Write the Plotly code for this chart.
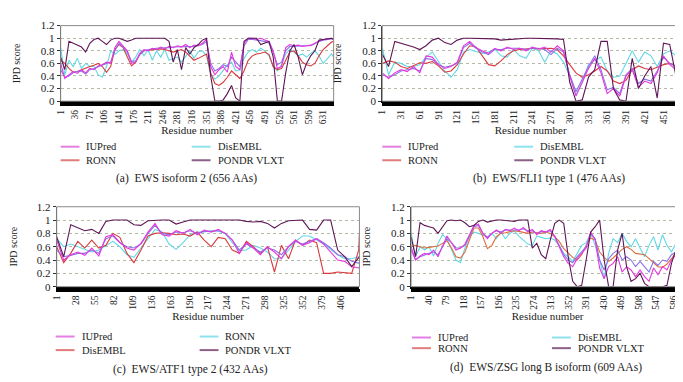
import plotly.graph_objects as go

FONT = "Liberation Serif"
W, H = 683, 382

# ---------------- data ----------------
# (a) EWS isoform 2
a_len = 656
a_res = list(range(1, a_len + 1, 10)) + [a_len]
a_pondr = [0.70, 0.50, 0.95, 0.92, 0.89, 0.86, 0.78, 0.92, 0.98, 1.00,
           0.95, 0.90, 0.97, 1.00, 1.00, 0.98, 0.95, 0.97, 1.00, 1.00,
           1.00, 1.00, 0.99, 1.00, 1.00, 1.00, 0.95, 0.62, 0.82, 0.50,
           0.85, 0.75, 0.85, 0.90, 0.97, 1.00, 0.40, 0.00, 0.00, 0.02,
           0.12, 0.25, 0.05, 0.00, 0.95, 1.00, 1.00, 1.00, 0.90, 0.93,
           0.95, 0.70, 0.00, 0.00, 0.45, 0.80, 0.90, 0.70, 0.42, 0.60,
           0.72, 0.80, 0.97, 0.98, 0.99, 1.00, 0.98]
a_iupred = [0.60, 0.36, 0.42, 0.47, 0.44, 0.50, 0.45, 0.52, 0.50, 0.56,
            0.58, 0.62, 0.60, 0.85, 0.95, 0.88, 0.80, 0.60, 0.62, 0.76,
            0.82, 0.80, 0.84, 0.82, 0.86, 0.83, 0.87, 0.85, 0.88, 0.86,
            0.90, 0.85, 0.89, 0.88, 0.92, 0.98, 0.55, 0.42, 0.50, 0.55,
            0.46, 0.78, 0.55, 0.50, 0.92, 1.00, 1.00, 0.98, 1.00, 0.97,
            0.95, 0.80, 0.52, 0.55, 0.85, 0.90, 0.88, 0.89, 0.87, 0.88,
            0.89, 0.92, 0.96, 0.98, 0.99, 1.00, 0.99]
a_iupred_long = [0.50, 0.38, 0.40, 0.45, 0.47, 0.48, 0.43, 0.50, 0.52, 0.55,
                 0.57, 0.60, 0.62, 0.80, 0.92, 0.86, 0.78, 0.63, 0.64, 0.74,
                 0.80, 0.82, 0.83, 0.84, 0.84, 0.85, 0.85, 0.86, 0.86, 0.87,
                 0.87, 0.87, 0.87, 0.88, 0.90, 0.95, 0.60, 0.48, 0.52, 0.58,
                 0.55, 0.70, 0.62, 0.55, 0.88, 0.98, 0.98, 0.97, 0.97, 0.95,
                 0.92, 0.78, 0.58, 0.62, 0.80, 0.87, 0.87, 0.88, 0.88, 0.88,
                 0.88, 0.91, 0.95, 0.97, 0.98, 0.99, 0.98]
a_ronn = [0.65, 0.60, 0.52, 0.46, 0.47, 0.50, 0.52, 0.55, 0.57, 0.60,
          0.55, 0.46, 0.55, 0.82, 0.90, 0.85, 0.70, 0.56, 0.62, 0.75,
          0.80, 0.81, 0.82, 0.82, 0.83, 0.82, 0.80, 0.78, 0.80, 0.82,
          0.78, 0.72, 0.65, 0.68, 0.72, 0.75, 0.45, 0.28, 0.25, 0.30,
          0.38, 0.48, 0.42, 0.36, 0.48, 0.65, 0.72, 0.75, 0.76, 0.78,
          0.74, 0.55, 0.50, 0.52, 0.65, 0.78, 0.80, 0.72, 0.62, 0.58,
          0.56, 0.60, 0.72, 0.82, 0.88, 0.94, 0.95]
a_disembl = [0.85, 0.42, 0.65, 0.55, 0.68, 0.52, 0.60, 0.55, 0.55, 0.42,
             0.38, 0.55, 0.80, 0.74, 0.80, 0.82, 0.75, 0.62, 0.70, 0.82,
             0.72, 0.82, 0.65, 0.80, 0.70, 0.82, 0.65, 0.68, 0.70, 0.62,
             0.72, 0.80, 0.68, 0.78, 0.80, 0.72, 0.42, 0.35, 0.40, 0.50,
             0.58, 0.62, 0.48, 0.50, 0.68, 0.78, 0.82, 0.78, 0.84, 0.80,
             0.72, 0.55, 0.48, 0.58, 0.75, 0.82, 0.78, 0.72, 0.75, 0.70,
             0.76, 0.80, 0.72, 0.60, 0.68, 0.75, 0.70]
a_ticks = [1, 36, 71, 106, 141, 176, 211, 246, 281, 316, 351, 386, 421,
           456, 491, 526, 561, 596, 631]

# (b) EWS/FLI1 type 1
b_len = 476
b_res = list(range(1, b_len + 1, 10)) + [b_len]
b_pondr = [0.75, 0.55, 0.95, 0.92, 0.90, 0.86, 0.82, 0.88, 0.97, 1.00,
           0.93, 0.90, 0.97, 1.00, 1.00, 1.00, 1.00, 1.00, 0.99, 0.97,
           0.98, 0.98, 0.99, 1.00, 1.00, 1.00, 1.00, 1.00, 0.99, 0.98,
           0.30, 0.00, 0.02, 0.38, 0.50, 0.95, 0.95, 0.20, 0.02, 0.00,
           0.68, 0.20, 0.40, 0.55, 0.05, 0.92, 0.90, 0.40, 0.20]
b_iupred = [0.45, 0.36, 0.45, 0.50, 0.47, 0.55, 0.45, 0.72, 0.70, 0.58,
            0.52, 0.55, 0.62, 0.88, 0.95, 0.85, 0.80, 0.76, 0.84, 0.80,
            0.86, 0.82, 0.84, 0.80, 0.86, 0.83, 0.86, 0.78, 0.88, 0.80,
            0.40, 0.08, 0.30, 0.52, 0.68, 0.45, 0.12, 0.20, 0.08, 0.40,
            0.50, 0.22, 0.32, 0.28, 0.45, 0.72, 0.58, 0.50, 0.15]
b_iupred_long = [0.42, 0.38, 0.42, 0.48, 0.50, 0.52, 0.48, 0.68, 0.66, 0.58,
                 0.54, 0.56, 0.60, 0.85, 0.92, 0.84, 0.78, 0.74, 0.82, 0.82,
                 0.84, 0.84, 0.84, 0.82, 0.84, 0.84, 0.82, 0.74, 0.84, 0.78,
                 0.42, 0.15, 0.35, 0.55, 0.72, 0.50, 0.18, 0.22, 0.12, 0.42,
                 0.52, 0.28, 0.35, 0.32, 0.48, 0.70, 0.60, 0.55, 0.35]
b_ronn = [0.60, 0.64, 0.62, 0.55, 0.52, 0.57, 0.61, 0.60, 0.63, 0.56,
          0.46, 0.48, 0.58, 0.75, 0.88, 0.86, 0.72, 0.58, 0.56, 0.64,
          0.74, 0.80, 0.82, 0.83, 0.84, 0.83, 0.83, 0.84, 0.82, 0.72,
          0.58, 0.45, 0.38, 0.42, 0.48, 0.55, 0.48, 0.32, 0.28, 0.33,
          0.50, 0.56, 0.52, 0.50, 0.54, 0.58, 0.60, 0.56, 0.50]
b_disembl = [0.85, 0.42, 0.62, 0.60, 0.55, 0.55, 0.58, 0.70, 0.78, 0.62,
             0.48, 0.38, 0.50, 0.78, 0.82, 0.79, 0.76, 0.78, 0.83, 0.72,
             0.70, 0.82, 0.72, 0.68, 0.84, 0.80, 0.62, 0.80, 0.75, 0.62,
             0.40, 0.10, 0.30, 0.58, 0.65, 0.70, 0.48, 0.38, 0.40, 0.60,
             0.80, 0.62, 0.78, 0.72, 0.55, 0.75, 0.80, 0.72, 0.85]
b_ticks = [1, 31, 61, 91, 121, 151, 181, 211, 241, 271, 301, 331, 361,
           391, 421, 451]

# (c) EWS/ATF1 type 2
c_len = 432
c_res = list(range(1, c_len + 1, 10)) + [c_len]
c_pondr = [0.75, 0.45, 0.93, 0.88, 0.84, 0.86, 0.80, 0.98, 1.00, 1.00,
           1.00, 0.93, 0.92, 0.99, 1.00, 1.00, 1.00, 0.94, 0.97, 1.00,
           1.00, 1.00, 1.00, 1.00, 1.00, 1.00, 1.00, 0.98, 0.97, 0.98,
           0.95, 0.88, 0.95, 0.99, 1.00, 1.00, 0.86, 0.85, 1.00, 1.00,
           0.55, 0.45, 0.30, 0.45, 0.45]
c_iupred = [0.70, 0.40, 0.48, 0.52, 0.47, 0.58, 0.46, 0.75, 0.78, 0.66,
            0.58, 0.55, 0.65, 0.82, 0.95, 0.78, 0.76, 0.84, 0.80, 0.86,
            0.78, 0.85, 0.82, 0.86, 0.80, 0.70, 0.50, 0.66, 0.58, 0.48,
            0.60, 0.52, 0.42, 0.60, 0.70, 0.62, 0.66, 0.72, 0.64, 0.52,
            0.40, 0.38, 0.30, 0.28, 0.30]
c_iupred_long = [0.55, 0.45, 0.47, 0.50, 0.50, 0.55, 0.50, 0.72, 0.76, 0.66,
                 0.60, 0.58, 0.64, 0.80, 0.92, 0.80, 0.78, 0.82, 0.81, 0.84,
                 0.80, 0.83, 0.83, 0.84, 0.80, 0.70, 0.55, 0.64, 0.58, 0.52,
                 0.58, 0.55, 0.48, 0.60, 0.68, 0.64, 0.68, 0.72, 0.66, 0.58,
                 0.48, 0.45, 0.38, 0.35, 0.35]
c_disembl = [0.60, 0.36, 0.50, 0.68, 0.58, 0.70, 0.58, 0.62, 0.80, 0.74,
             0.50, 0.36, 0.55, 0.76, 0.80, 0.81, 0.80, 0.78, 0.79, 0.76,
             0.82, 0.70, 0.60, 0.74, 0.72, 0.55, 0.50, 0.68, 0.60, 0.50,
             0.60, 0.22, 0.62, 0.42, 0.70, 0.62, 0.70, 0.66, 0.20, 0.20,
             0.22, 0.21, 0.20, 0.55, 0.80]
c_ronn = [0.72, 0.60, 0.64, 0.60, 0.55, 0.52, 0.55, 0.62, 0.68, 0.60,
          0.48, 0.44, 0.58, 0.72, 0.86, 0.82, 0.64, 0.56, 0.66, 0.78,
          0.82, 0.82, 0.84, 0.84, 0.80, 0.66, 0.54, 0.55, 0.62, 0.58,
          0.52, 0.42, 0.42, 0.55, 0.68, 0.76, 0.76, 0.70, 0.64, 0.56,
          0.48, 0.42, 0.42, 0.45, 0.45]
c_ticks = [1, 28, 55, 82, 109, 136, 163, 190, 217, 244, 271, 298, 325,
           352, 379, 406]

# (d) EWS/ZSG long B isoform
d_len = 609
d_res = list(range(1, d_len + 1, 10)) + [d_len]
d_pondr = [0.75, 0.45, 0.96, 0.92, 0.90, 0.88, 0.80, 0.90, 0.99, 1.00,
           0.99, 1.00, 0.96, 0.90, 0.92, 0.98, 1.00, 0.97, 0.99, 1.00,
           1.00, 0.99, 0.99, 0.98, 1.00, 1.00, 1.00, 0.58, 0.65, 0.48,
           0.42, 0.70, 0.95, 1.00, 0.95, 0.45, 0.08, 0.00, 0.02, 0.40,
           0.82, 0.90, 1.00, 0.40, 0.00, 0.00, 0.55, 0.80, 0.30, 0.08,
           0.12, 0.20, 0.05, 0.00, 0.00, 0.00, 0.00, 0.02, 0.35, 0.55,
           0.45, 0.95]
d_iupred = [0.60, 0.40, 0.46, 0.50, 0.48, 0.55, 0.45, 0.62, 0.76, 0.66,
            0.55, 0.58, 0.64, 0.78, 0.92, 0.94, 0.80, 0.72, 0.80, 0.85,
            0.80, 0.86, 0.84, 0.88, 0.84, 0.89, 0.82, 0.86, 0.78, 0.84,
            0.82, 0.86, 0.75, 0.60, 0.45, 0.35, 0.30, 0.42, 0.50, 0.58,
            0.82, 0.70, 0.28, 0.12, 0.30, 0.35, 0.45, 0.22, 0.30, 0.25,
            0.15, 0.25, 0.15, 0.08, 0.28, 0.18, 0.30, 0.25, 0.40, 0.48,
            0.58, 0.70]
d_iupred_long = [0.55, 0.40, 0.45, 0.48, 0.50, 0.52, 0.48, 0.60, 0.72, 0.66,
                 0.58, 0.58, 0.62, 0.76, 0.90, 0.92, 0.80, 0.74, 0.80, 0.84,
                 0.82, 0.85, 0.85, 0.86, 0.85, 0.87, 0.84, 0.84, 0.80, 0.83,
                 0.82, 0.84, 0.76, 0.62, 0.48, 0.40, 0.36, 0.45, 0.52, 0.60,
                 0.80, 0.72, 0.40, 0.25, 0.42, 0.50, 0.55, 0.40, 0.45, 0.40,
                 0.30, 0.38, 0.30, 0.22, 0.38, 0.32, 0.40, 0.38, 0.48, 0.52,
                 0.60, 0.68]
d_ronn = [0.60, 0.62, 0.60, 0.58, 0.59, 0.60, 0.61, 0.65, 0.69, 0.58,
          0.45, 0.43, 0.52, 0.70, 0.88, 0.88, 0.75, 0.57, 0.62, 0.75,
          0.80, 0.81, 0.83, 0.84, 0.83, 0.82, 0.80, 0.82, 0.81, 0.80,
          0.82, 0.80, 0.75, 0.68, 0.57, 0.50, 0.44, 0.40, 0.48, 0.62,
          0.73, 0.70, 0.52, 0.44, 0.38, 0.43, 0.50, 0.56, 0.60, 0.56,
          0.50, 0.49, 0.48, 0.42, 0.36, 0.30, 0.29, 0.34, 0.42, 0.52,
          0.62, 0.65]
d_disembl = [0.80, 0.45, 0.60, 0.55, 0.60, 0.46, 0.65, 0.78, 0.72, 0.55,
             0.40, 0.36, 0.58, 0.75, 0.82, 0.80, 0.78, 0.75, 0.80, 0.72,
             0.82, 0.72, 0.80, 0.84, 0.76, 0.70, 0.64, 0.62, 0.76, 0.74,
             0.72, 0.73, 0.70, 0.62, 0.50, 0.45, 0.38, 0.50, 0.62, 0.66,
             0.80, 0.62, 0.40, 0.12, 0.50, 0.72, 0.66, 0.80, 0.68, 0.60,
             0.72, 0.58, 0.45, 0.62, 0.75, 0.55, 0.78, 0.62, 0.52, 0.65,
             0.75, 0.62]
d_ticks = [1, 40, 79, 118, 157, 196, 235, 274, 313, 352, 391, 430, 469,
           508, 547, 586]

y_ticks = [0, 0.2, 0.4, 0.6, 0.8, 1.0, 1.2]
y_tick_labels = ["0", "0.2", "0.4", "0.6", "0.8", "1", "1.2"]

# ---------------- styling ----------------
C_MAG = "#e438de"
C_BLUE = "#8a72e6"
C_RED = "#d93a3c"
C_ORANGE = "#dc6e3c"
C_CYAN = "#62d8e6"
C_PURP = "#5e1656"
# paler swatch colours used in the legends
SW = {C_MAG: "#e57ee3", C_RED: "#e27c7c", C_ORANGE: "#e27c7c",
      C_CYAN: "#8ee2ec", C_PURP: "#8c5f88"}

panels = [
    dict(res=a_res, n=a_len, ticks=a_ticks, box=(48, 12, 323, 90),
         caption="(a)  EWS isoform 2 (656 AAs)", cap=(175, 170),
         leg_x=(48, 180), leg_y=(137, 151),
         series=[("DisEMBL", a_disembl, C_CYAN, (1, 0)),
                 ("RONN", a_ronn, C_RED, (0, 1)),
                 (None, a_iupred_long, C_BLUE, None),
                 ("IUPred", a_iupred, C_MAG, (0, 0)),
                 ("PONDR VLXT", a_pondr, C_PURP, (1, 1))]),
    dict(res=b_res, n=b_len, ticks=b_ticks, box=(372, 12, 671, 90),
         caption="(b)  EWS/FLI1 type 1 (476 AAs)", cap=(540, 170),
         leg_x=(372, 505), leg_y=(137, 151),
         series=[("DisEMBL", b_disembl, C_CYAN, (1, 0)),
                 ("RONN", b_ronn, C_RED, (0, 1)),
                 (None, b_iupred_long, C_BLUE, None),
                 ("IUPred", b_iupred, C_MAG, (0, 0)),
                 ("PONDR VLXT", b_pondr, C_PURP, (1, 1))]),
    dict(res=c_res, n=c_len, ticks=c_ticks, box=(44, 199, 349, 281.5),
         caption="(c)  EWS/ATF1 type 2 (432 AAs)", cap=(179, 367),
         leg_x=(43, 188), leg_y=(333, 347),
         series=[("RONN", c_ronn, C_CYAN, (1, 0)),
                 ("DisEMBL", c_disembl, C_RED, (0, 1)),
                 (None, c_iupred_long, C_BLUE, None),
                 ("IUPred", c_iupred, C_MAG, (0, 0)),
                 ("PONDR VLXT", c_pondr, C_PURP, (1, 1))]),
    dict(res=d_res, n=d_len, ticks=d_ticks, box=(401, 199, 676, 281.5),
         caption="(d)  EWS/ZSG long B isoform (609 AAs)", cap=(537, 365),
         leg_x=(402, 543), leg_y=(334, 345),
         series=[("DisEMBL", d_disembl, C_CYAN, (1, 0)),
                 ("RONN", d_ronn, C_ORANGE, (0, 1)),
                 (None, d_iupred_long, C_BLUE, None),
                 ("IUPred", d_iupred, C_MAG, (0, 0)),
                 ("PONDR VLXT", d_pondr, C_PURP, (1, 1))]),
]

fig = go.Figure()
layout = dict(width=W, height=H, margin=dict(l=0, r=0, t=0, b=0),
              paper_bgcolor="white", plot_bgcolor="white", showlegend=False,
              font=dict(family=FONT, color="#222"), annotations=[], shapes=[])

for k, p in enumerate(panels, start=1):
    sx = "" if k == 1 else str(k)
    xa, ya = "x" + sx, "y" + sx
    x0, y0, x1, y1 = p["box"]
    layout["xaxis" + sx] = dict(
        domain=[x0 / W, x1 / W], anchor=ya, range=[1, p["n"]],
        tickmode="array", tickvals=p["ticks"], ticktext=[str(t) for t in p["ticks"]],
        tickangle=-90, tickfont=dict(family=FONT, size=9.5, color="#222"),
        ticks="outside", ticklen=3, tickcolor="black",
        minor=dict(tickmode="linear", tick0=1, dtick=1, ticks="outside",
                   ticklen=3, tickwidth=1, tickcolor="black"),
        showline=True, linecolor="black", linewidth=2, showgrid=False,
        zeroline=False, fixedrange=True,
        title=dict(text="Residue number", font=dict(family=FONT, size=11, color="#222"),
                   standoff=2))
    layout["yaxis" + sx] = dict(
        domain=[1 - y1 / H, 1 - y0 / H], anchor=xa, range=[0, 1.2],
        tickmode="array", tickvals=y_ticks, ticktext=y_tick_labels,
        tickfont=dict(family=FONT, size=11, color="#222"),
        ticks="outside", ticklen=3, tickcolor="#333",
        showline=True, linecolor="#333", linewidth=1,
        showgrid=True, gridcolor="#b4b8a6", griddash="dot", gridwidth=1,
        zeroline=False, fixedrange=True,
        title=dict(text="IPD score", font=dict(family=FONT, size=10, color="#222"),
                   standoff=18))
    # light frame around the plotting area
    layout["shapes"].append(dict(type="rect", xref=xa + " domain", yref=ya + " domain",
                                 x0=0, x1=1, y0=0, y1=1,
                                 line=dict(color="#8a8a8a", width=1), layer="above"))
    layout["annotations"].append(dict(text=p["caption"], xref="paper", yref="paper",
                                      x=p["cap"][0] / W, y=1 - p["cap"][1] / H,
                                      xanchor="center", yanchor="middle", showarrow=False,
                                      font=dict(family=FONT, size=11.5, color="#222")))
    for name, vals, color, slot in p["series"]:
        fig.add_trace(go.Scatter(x=p["res"], y=vals, mode="lines", xaxis=xa, yaxis=ya,
                                 name=name or "IUPred (long)", showlegend=False,
                                 line=dict(color=color, width=1.1), hoverinfo="skip"))
        if name is None:
            continue
        # 2x2 key below the panel
        col, row = slot
        lx, ly = p["leg_x"][col], p["leg_y"][row]
        layout["shapes"].append(dict(type="line", xref="paper", yref="paper",
                                     x0=lx / W, x1=(lx + 19) / W,
                                     y0=1 - ly / H, y1=1 - ly / H,
                                     line=dict(color=SW[color], width=2)))
        layout["annotations"].append(dict(text=name, xref="paper", yref="paper",
                                          x=(lx + 24) / W, y=1 - ly / H,
                                          xanchor="left", yanchor="middle",
                                          showarrow=False,
                                          font=dict(family=FONT, size=10.5, color="#222")))

fig.update_layout(**layout)
fig.write_html("out.html")
